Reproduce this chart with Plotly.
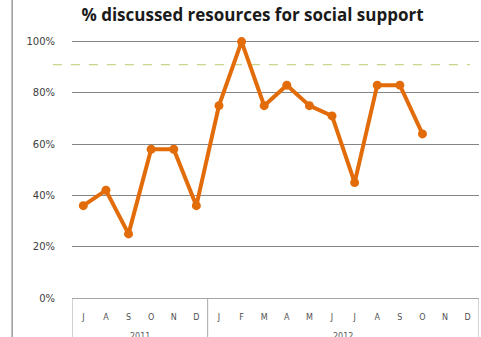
import plotly.graph_objects as go

# Monthly share of visits where social-support resources were discussed
months = ["J", "A", "S", "O", "N", "D",
          "J", "F", "M", "A", "M", "J", "J", "A", "S", "O", "N", "D"]
years = ["2011", "2012"]
year_lengths = [6, 12]
pct_discussed = [0.36, 0.42, 0.25, 0.58, 0.58, 0.36,
                 0.75, 1.00, 0.75, 0.83, 0.75, 0.71, 0.45, 0.83, 0.83, 0.64,
                 None, None]
target = 0.91

y_ticks = [0, 0.2, 0.4, 0.6, 0.8, 1.0]

x_idx = list(range(len(months)))
orange = "#E36C0A"
grid = "#858585"
box = "#a6a6a6"

fig = go.Figure()
fig.add_trace(go.Scatter(
    x=x_idx, y=pct_discussed, mode="lines+markers",
    line=dict(color=orange, width=4),
    marker=dict(color=orange, size=9),
    cliponaxis=False, showlegend=False, connectgaps=False,
))

shapes = []
# target reference line
shapes.append(dict(type="line", xref="paper", yref="y",
                   x0=-0.047, x1=0.978, y0=target, y1=target,
                   line=dict(color="#cbd48c", width=1.2, dash="dash"), layer="below"))
# category box: verticals at the start, year boundary and end
bounds = [-0.5]
for n in year_lengths:
    bounds.append(bounds[-1] + n)
for b in bounds:
    shapes.append(dict(type="line", xref="x", yref="paper",
                       x0=b, x1=b, y0=0, y1=-0.4,
                       line=dict(color=box, width=1)))
# outer chart border on the left
shapes.append(dict(type="line", xref="paper", yref="paper",
                   x0=-0.147, x1=-0.147, y0=-0.5, y1=1.5,
                   line=dict(color="#9a9a9a", width=1.5)))

annotations = []
for i, yr in enumerate(years):
    center = (bounds[i] + bounds[i + 1]) / 2
    annotations.append(dict(x=center, xref="x", y=-0.124, yref="paper",
                            text=yr, showarrow=False, yanchor="top",
                            font=dict(family="DejaVu Sans", size=8, color="#595959")))

fig.update_layout(
    width=481, height=337,
    margin=dict(l=72, r=2, t=39, b=39),
    paper_bgcolor="white", plot_bgcolor="white",
    title=dict(text="<b>% discussed resources for social support</b>",
               x=0.525, xanchor="center", y=0.955, yanchor="middle",
               font=dict(family="Open Sans", size=17, color="#1a1a1a")),
    xaxis=dict(range=[-0.5, 17.5], tickmode="array", tickvals=x_idx, ticktext=months,
               showgrid=False, zeroline=False, showline=True, linecolor=box, linewidth=1,
               ticks="", ticklabelstandoff=11,
               tickfont=dict(family="DejaVu Sans", size=8, color="#505050")),
    yaxis=dict(range=[0, 1.01], tickmode="array", tickvals=y_ticks,
               tickformat=".0%", showgrid=True, gridcolor=grid, gridwidth=1.2,
               zeroline=False, showline=False, ticks="", ticklabelstandoff=16,
               tickfont=dict(family="DejaVu Sans", size=10, color="#404040")),
    shapes=shapes, annotations=annotations,
)

fig.write_html("out.html")
